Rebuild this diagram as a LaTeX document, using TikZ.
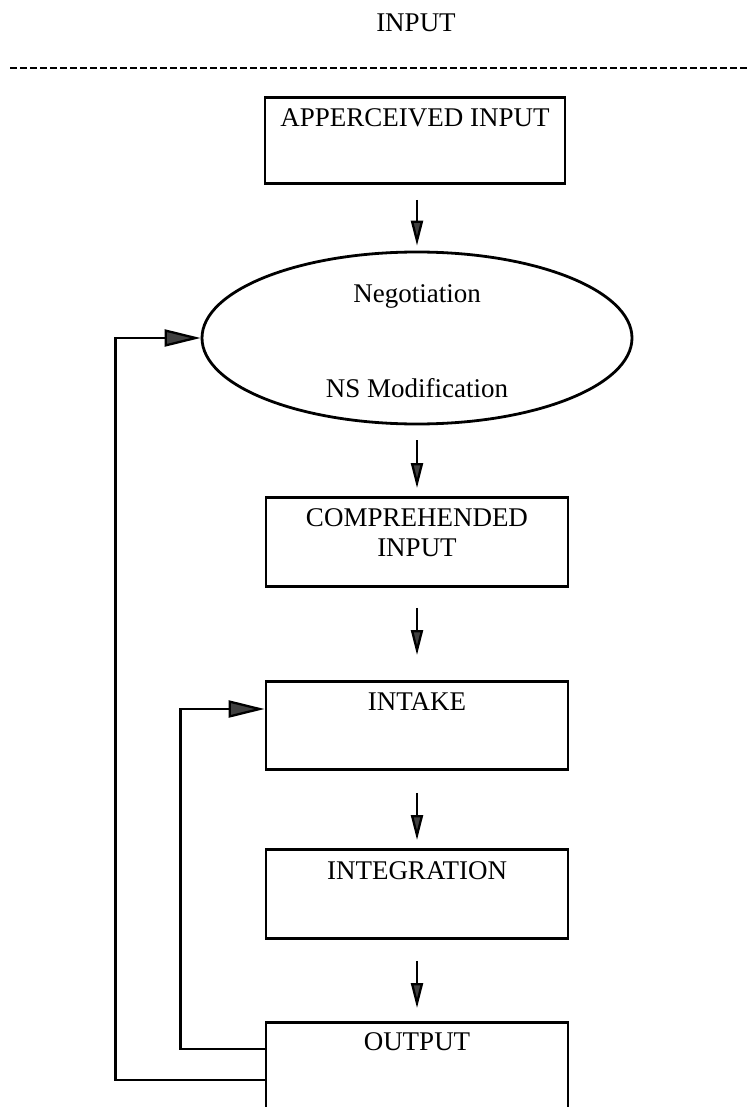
\documentclass[tikz,border=0pt]{standalone}
\usepackage{fontspec}
\setmainfont{Liberation Serif}
\usetikzlibrary{arrows.meta,shapes.geometric}
\definecolor{arrgray}{HTML}{404040}
\begin{document}
\begin{tikzpicture}[x=1pt,y=-1pt,
  every node/.style={font=\fontsize{27}{30}\selectfont},
  stagebox/.style={draw,line width=2.8pt,rectangle,anchor=north,inner xsep=0pt,inner ysep=0pt,minimum width=302pt},
  stageell/.style={draw,line width=2.8pt,ellipse,inner sep=0pt,minimum width=430pt,minimum height=172pt},
  plain/.style={anchor=base,inner sep=0pt},
  varr/.style={line width=2.3pt,-{Triangle[length=25pt,width=12pt,fill=arrgray]}},
  harr/.style={line width=2.3pt,-{Triangle[length=36pt,width=17pt,fill=arrgray]}},
]
\useasboundingbox (0,0) rectangle (748,1107);
\fill[white] (0,0) rectangle (748,1107);

% top label and dashed rule
\node[plain] (inp) at (416,31.5) {INPUT};
\draw[line width=1.4pt,dash pattern=on 7pt off 3pt] (10,68) -- (748,68);

% stages
\node[stagebox,minimum width=300pt,text height=29pt,text depth=57pt] (app) at (415,96) {APPERCEIVED INPUT};
\node[stageell] (neg) at (417,338) {};
\node[plain] (negt) at (417,302) {Negotiation};
\node[plain] (nsm) at (417,397) {NS Modification};
\node[stagebox,text height=29pt,text depth=60pt] (comp) at (417,496)
  {\begin{tabular}[t]{@{}c@{}}COMPREHENDED\\INPUT\end{tabular}};
\node[stagebox,text height=29pt,text depth=59pt] (intake) at (417,680) {INTAKE};
\node[stagebox,text height=30pt,text depth=59pt] (integ) at (417,848) {INTEGRATION};
\node[stagebox,text height=28pt,text depth=120pt] (out) at (417,1021) {OUTPUT};

% forward arrows
\draw[varr,shorten <=15pt,shorten >=5pt] (app.south -| neg.north) -- (neg.north);
\draw[varr,shorten <=15pt,shorten >=8pt] (neg.south) -- (comp.north);
\draw[varr,shorten <=20pt,shorten >=25pt] (comp.south) -- (intake.north);
\draw[varr,shorten <=22pt,shorten >=8pt] (intake.south) -- (integ.north);
\draw[varr,shorten <=21pt,shorten >=13pt] (integ.south) -- (out.north);

% feedback loops
\draw[harr] ([yshift=-59pt]out.north west) -- ++(-149,0) |- (neg.west);
\draw[harr] ([yshift=-28pt]out.north west) -- ++(-84,0) |- ([yshift=-29pt]intake.north west);
\end{tikzpicture}
\end{document}
